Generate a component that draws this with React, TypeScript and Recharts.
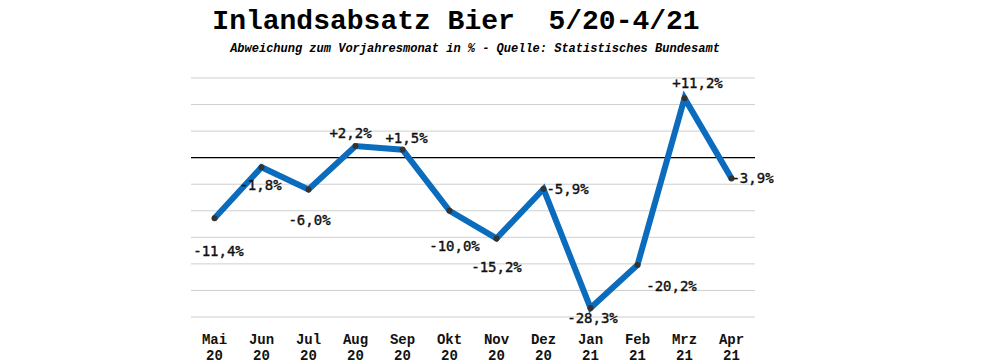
import React from "react";
import {
  LineChart,
  Line,
  XAxis,
  YAxis,
  CartesianGrid,
  ReferenceLine,
  LabelList,
} from "recharts";

const months = ["Mai", "Jun", "Jul", "Aug", "Sep", "Okt", "Nov", "Dez", "Jan", "Feb", "Mrz", "Apr"];
const years = ["20", "20", "20", "20", "20", "20", "20", "20", "21", "21", "21", "21"];
const change = [-11.4, -1.8, -6.0, 2.2, 1.5, -10.0, -15.2, -5.9, -28.3, -20.2, 11.2, -3.9];
const yTicks = [-30, -25, -20, -15, -10, -5, 0, 5, 10, 15];

// label nudges per point, picked by eye
const labelOffsets: [number, number][] = [
  [4, 33], [-1, 18], [1, 30], [-5, -13], [4, -12], [5, 35],
  [0, 29], [24, 0], [2, 10], [34, 21], [13, -15], [21, 0],
];

const data = months.map((m, i) => ({ month: m, year: years[i], value: change[i] }));

const mono = "'Liberation Mono', 'Courier New', monospace";

const fmt = (v: number) => (v > 0 ? "+" : "") + v.toFixed(1).replace(".", ",") + "%";

const MonthTick = (props: any) => {
  const { x, y, payload, index } = props;
  return (
    <g>
      <text x={x} y={y + 19} textAnchor="middle" fontFamily={mono} fontWeight="bold" fontSize={14} fill="#111">
        {payload.value}
      </text>
      <text x={x} y={y + 35} textAnchor="middle" fontFamily={mono} fontWeight="bold" fontSize={14} fill="#111">
        {years[index]}
      </text>
    </g>
  );
};

const ValueLabel = (props: any) => {
  const { x, y, value, index } = props;
  const [dx, dy] = labelOffsets[index] || [0, 0];
  return (
    <text
      x={x + dx}
      y={y + dy}
      textAnchor="middle"
      dominantBaseline="central"
      fontFamily="'DejaVu Sans Mono', monospace"
      fontSize={14}
      fill="#111"
      stroke="#111"
      strokeWidth={0.4}
    >
      {fmt(value)}
    </text>
  );
};

export default function App() {
  return (
    <div style={{ position: "absolute", left: 0, top: 0, width: 1000, height: 364, background: "#fff" }}>
      <div
        style={{
          position: "absolute",
          left: 0,
          width: 1000,
          top: 6,
          textAlign: "center",
          fontFamily: mono,
          fontWeight: "bold",
          fontSize: 28,
          whiteSpace: "pre",
          paddingRight: 88,
          boxSizing: "border-box",
        }}
      >
        Inlandsabsatz Bier  5/20-4/21
      </div>
      <div
        style={{
          position: "absolute",
          left: 0,
          width: 1000,
          top: 42,
          textAlign: "center",
          fontFamily: mono,
          fontWeight: "bold",
          fontStyle: "italic",
          fontSize: 12,
          paddingRight: 50,
          boxSizing: "border-box",
        }}
      >
        Abweichung zum Vorjahresmonat in % - Quelle: Statistisches Bundesamt
      </div>
      <LineChart
        width={1000}
        height={364}
        data={data}
        margin={{ top: 78, right: 245, bottom: 7, left: 191 }}
      >
        <CartesianGrid vertical={false} stroke="#cfcfcf" strokeWidth={1} />
        <XAxis
          dataKey="month"
          axisLine={false}
          tickLine={false}
          height={40}
          interval={0}
          padding={{ left: 23.5, right: 23.5 }}
          tick={<MonthTick />}
        />
        <YAxis hide domain={[-30, 15]} ticks={yTicks} />
        <ReferenceLine y={0} stroke="#000" strokeWidth={1.2} />
        <Line
          type="linear"
          dataKey="value"
          stroke="#0b6cbd"
          strokeWidth={6}
          dot={{ r: 3, fill: "#333", stroke: "none" }}
          isAnimationActive={false}
        >
          <LabelList dataKey="value" content={<ValueLabel />} />
        </Line>
      </LineChart>
    </div>
  );
}
